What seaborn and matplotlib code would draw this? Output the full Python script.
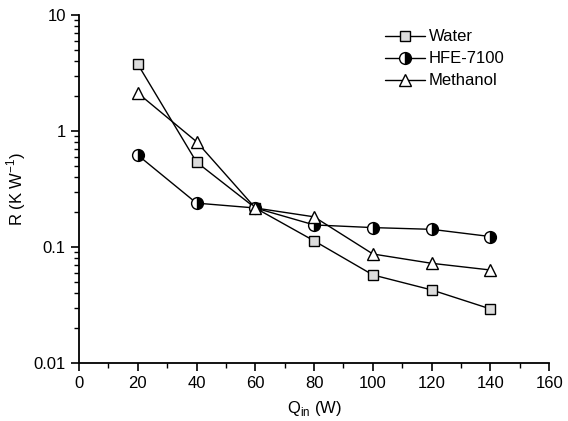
import matplotlib
matplotlib.use("Agg")
import matplotlib.pyplot as plt
import seaborn as sns
import pandas as pd
from matplotlib.ticker import MultipleLocator, LogLocator, FixedLocator, FixedFormatter

sns.set_style("ticks", {"axes.edgecolor": "black", "text.color": "black",
                        "axes.labelcolor": "black", "xtick.color": "black",
                        "ytick.color": "black"})
plt.rcParams['font.family'] = ['Liberation Sans', 'DejaVu Sans']

q_in = [20, 40, 60, 80, 100, 120, 140]
water = [3.78, 0.54, 0.217, 0.113, 0.0574, 0.0426, 0.0292]
hfe7100 = [0.621, 0.239, 0.217, 0.155, 0.147, 0.142, 0.123]
methanol = [2.13, 0.81, 0.217, 0.182, 0.087, 0.0723, 0.0633]

fig = plt.figure(figsize=(5.68, 4.21), dpi=100)
ax = fig.add_axes([0.139, 0.138, 0.828, 0.826])

styles = [
    ("Water", water, dict(marker="s", markersize=7.2, markerfacecolor="#dcdcdc",
                          fillstyle="full")),
    ("HFE-7100", hfe7100, dict(marker="o", markersize=8.5, markerfacecolor="black",
                               fillstyle="right", markerfacecoloralt="white")),
    ("Methanol", methanol, dict(marker="^", markersize=8.5, markerfacecolor="white",
                                fillstyle="full")),
]

for name, vals, st in styles:
    df = pd.DataFrame({"Q": q_in, "R": vals})
    sns.lineplot(data=df, x="Q", y="R", ax=ax, color="black", linewidth=1.0,
                 markeredgecolor="black", markeredgewidth=1.0,
                 label=name, **st)

ax.set_yscale("log")
ax.set_xlim(0, 160)
ax.set_ylim(0.01, 10)
ax.xaxis.set_major_locator(MultipleLocator(20))
ax.xaxis.set_minor_locator(MultipleLocator(10))
ax.yaxis.set_major_locator(FixedLocator([0.01, 0.1, 1, 10]))
ax.yaxis.set_major_formatter(FixedFormatter(["0.01", "0.1", "1", "10"]))
ax.yaxis.set_minor_locator(LogLocator(base=10, subs=range(2, 10)))

for s in ["top", "right"]:
    ax.spines[s].set_visible(False)
for s in ["left", "bottom"]:
    ax.spines[s].set_linewidth(1.3)
ax.tick_params(which="major", direction="out", length=6, width=1.2, labelsize=12)
ax.tick_params(which="minor", direction="out", length=3.5, width=1.0)

ax.set_xlabel("Q$_{\\mathregular{in}}$ (W)", fontsize=12, labelpad=6)
ax.set_ylabel("R (K W$^{\\mathregular{-1}}$)", fontsize=12, labelpad=4)

ax.legend(loc="upper left", bbox_to_anchor=(0.678, 0.93), bbox_transform=fig.transFigure,
          frameon=False, fontsize=12, borderpad=0, borderaxespad=0,
          handlelength=2.4, handletextpad=0.2, labelspacing=0.42)

fig.savefig("out.png", dpi=100)
